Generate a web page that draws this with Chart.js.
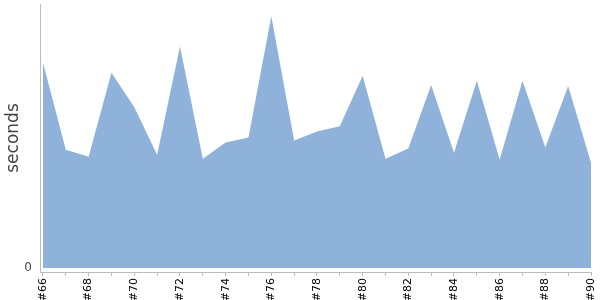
<!DOCTYPE html>
<html>
<head>
<meta charset="utf-8">
<script src="https://cdn.jsdelivr.net/npm/chart.js@4/dist/chart.umd.min.js"></script>
<style>
  html, body { margin: 0; padding: 0; background: #fff; }
  #wrap { width: 600px; height: 300px; }
</style>
</head>
<body>
<div id="wrap"><canvas id="chart" width="600" height="300"></canvas></div>
<script>
// build runs #66..#90
const runs = ["#66", "#67", "#68", "#69", "#70", "#71", "#72", "#73", "#74", "#75", "#76", "#77", "#78",
  "#79", "#80", "#81", "#82", "#83", "#84", "#85", "#86", "#87", "#88", "#89", "#90"];
// duration per run (seconds)
const seconds = [20.3, 11.7, 11.0, 19.3, 15.9, 11.2, 21.9, 10.8, 12.4, 12.9, 24.9, 12.6, 13.5,
  14.0, 19.0, 10.8, 11.8, 18.1, 11.4, 18.5, 10.7, 18.5, 11.9, 18.0, 10.4];
const yTicks = [0];

const points = seconds.map((v, i) => ({ x: i, y: v }));

new Chart(document.getElementById("chart"), {
  type: "line",
  data: {
    datasets: [{
      data: points,
      fill: "origin",
      backgroundColor: "#8fb2da",
      borderColor: "#8fb2da",
      borderWidth: 0,
      pointRadius: 0,
      tension: 0
    }]
  },
  options: {
    responsive: false,
    animation: false,
    layout: { padding: { top: 4, right: 9, left: 2, bottom: 0 } },
    plugins: { legend: { display: false }, tooltip: { enabled: false } },
    scales: {
      x: {
        type: "linear",
        min: -0.13,
        max: runs.length - 1,
        afterBuildTicks: (axis) => {
          axis.ticks = runs.map((_, i) => ({ value: i }));
        },
        afterFit: (axis) => { axis.paddingLeft = 0; axis.paddingRight = 0; axis.height = 28; },
        ticks: {
          autoSkip: false,
          minRotation: 90,
          maxRotation: 90,
          padding: 2,
          color: "#000",
          font: { family: "DejaVu Sans", size: 11 },
          callback: (v) => (v % 2 === 0 ? runs[v] : "")
        },
        grid: {
          drawOnChartArea: false,
          tickLength: 4,
          color: "#bbb"
        },
        border: { color: "#bbb" }
      },
      y: {
        min: -0.4,
        max: 26.1,
        afterBuildTicks: (axis) => {
          axis.ticks = yTicks.map(v => ({ value: v }));
        },
        afterFit: (axis) => { axis.width = 38; axis.paddingTop = 0; axis.paddingBottom = 0; },
        ticks: {
          color: "#444",
          padding: 8,
          font: { family: "DejaVu Sans", size: 12 }
        },
        grid: { drawOnChartArea: false, drawTicks: false },
        border: { color: "#bbb" },
        title: {
          display: true,
          text: "seconds",
          color: "#444",
          padding: { top: 1, bottom: 4 },
          font: { family: "DejaVu Sans", size: 17 }
        }
      }
    }
  }
});
</script>
</body>
</html>
